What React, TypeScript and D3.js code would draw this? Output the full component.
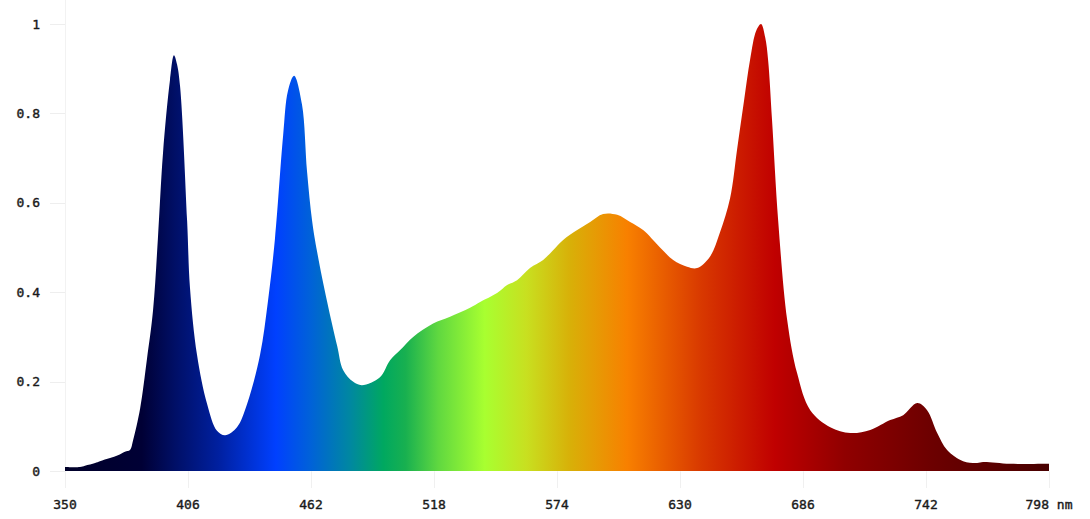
import * as React from 'react';
import * as d3 from 'd3';

// Spectrum (wavelength in nm, relative intensity)
const wavelengths = [
  350, 356.8, 359.1, 363.7, 365.9, 370.5, 374.1, 377.3, 379.6, 381.0,
  384.2, 387.3, 390.1, 392.3, 394.6, 397.8, 399.6, 401.0, 402.4, 405.6,
  406.9, 410.1, 414.7, 419.2, 422.9, 428.3, 432.9, 438.8, 442.4, 445.6,
  449.3, 451.5, 454.3, 457.9, 460.2, 462.5, 464.8, 469.3, 473.9, 476.6,
  481.1, 485.2, 493.4, 498.0, 502.5, 508.5, 517.6, 525.3, 534.4, 539.0,
  546.7, 551.3, 555.8, 561.7, 567.7, 572.2, 576.8, 583.2, 589.1, 595.0,
  601.4, 607.3, 613.2, 620.9, 626.9, 633.2, 637.8, 643.7, 648.3, 652.8,
  656.0, 659.2, 661.9, 664.7, 666.9, 668.8, 670.1, 671.9, 674.7, 678.8,
  683.3, 689.3, 698.4, 707.5, 716.6, 725.7, 731.6, 738.0, 742.5, 747.1,
  751.6, 758.9, 765.3, 768.0, 780.3, 798,
];
const intensity = [
  0.009, 0.009, 0.012, 0.018, 0.022, 0.029, 0.035, 0.043, 0.047, 0.069,
  0.14, 0.25, 0.36, 0.52, 0.71, 0.875, 0.93, 0.91, 0.86, 0.56,
  0.41, 0.26, 0.15, 0.09, 0.08, 0.098, 0.15, 0.26, 0.38, 0.52,
  0.75, 0.85, 0.884, 0.82, 0.67, 0.56, 0.49, 0.38, 0.28, 0.226,
  0.2, 0.192, 0.21, 0.248, 0.27, 0.3, 0.33, 0.345, 0.365, 0.378,
  0.398, 0.416, 0.427, 0.454, 0.472, 0.494, 0.517, 0.539, 0.557, 0.575,
  0.573, 0.557, 0.539, 0.5, 0.472, 0.457, 0.454, 0.48, 0.535, 0.61,
  0.72, 0.83, 0.92, 0.985, 1.0, 0.97, 0.92, 0.785, 0.56, 0.338,
  0.219, 0.136, 0.098, 0.085, 0.092, 0.114, 0.125, 0.152, 0.136, 0.085,
  0.047, 0.022, 0.018, 0.02, 0.016, 0.016,
];

const xTicks = [350, 406, 462, 518, 574, 630, 686, 742, 798];
const yTicks = [0, 0.2, 0.4, 0.6, 0.8, 1];

const stopNm = [350, 385, 400, 420, 446, 462, 480, 495, 505, 520, 541, 560, 580, 606, 640, 673, 705, 745, 798];
const stopColors = [
  '#00002a', '#000035', '#000f66', '#0020a0', '#0040ff', '#0062d8', '#0088a0', '#00a860', '#18b050', '#60d840',
  '#a8ff30', '#c8e020', '#d8b008', '#f88000', '#d83800', '#c00000', '#900000', '#6c0000', '#480000',
];

const W = 1090;
const H = 519;
const font = '"DejaVu Sans Mono", "Liberation Mono", monospace';

export default function App() {
  const x = d3.scaleLinear().domain([350, 798]).range([65, 1049]);
  const y = d3.scaleLinear().domain([0, 1]).range([471, 24]);

  const points = wavelengths.map((w, i) => [w, intensity[i]] as [number, number]);
  const area = d3
    .area<[number, number]>()
    .x(d => x(d[0]))
    .y0(y(0))
    .y1(d => Math.min(y(0), y(d[1])))
    .curve(d3.curveCatmullRom.alpha(0.5));

  const x0 = x(350);
  const x1 = x(798);

  return (
    <svg width={W} height={H} style={{position: 'absolute', left: 0, top: 0, background: '#fff'}}>
      <defs>
        <linearGradient id="spectrum" gradientUnits="userSpaceOnUse" x1={x0} x2={x1} y1={0} y2={0}>
          {stopNm.map((nm, i) => (
            <stop key={nm} offset={(x(nm) - x0) / (x1 - x0)} stopColor={stopColors[i]} />
          ))}
        </linearGradient>
      </defs>

      {/* faint grid */}
      <line x1={x0 + 0.5} x2={x0 + 0.5} y1={0} y2={y(0)} stroke="#f2f2f2" />
      {yTicks.map(t => (
        <line key={t} x1={50} x2={x0} y1={Math.round(y(t)) + 0.5} y2={Math.round(y(t)) + 0.5} stroke="#eeeeee" />
      ))}
      {xTicks.map(t => (
        <line key={t} x1={Math.round(x(t)) + 0.5} x2={Math.round(x(t)) + 0.5} y1={y(0)} y2={488} stroke="#f0f0f0" />
      ))}

      <path d={area(points) ?? ''} fill="url(#spectrum)" />
      <line x1={x0} x2={x1} y1={y(0) + 0.5} y2={y(0) + 0.5} stroke="#ffffff" strokeOpacity={0.35} />

      <g style={{font: `13px ${font}`}} fill="#1a1a1a" stroke="#1a1a1a" strokeWidth={0.4}>
        {yTicks.map(t => (
          <text key={t} x={40} y={y(t)} dy="0.35em" textAnchor="end">
            {d3.format('')(t)}
          </text>
        ))}
        {xTicks.map((t, i) => (
          <text key={t} x={x(t)} y={504} dy="0.35em" textAnchor="middle">
            {i === xTicks.length - 1 ? `${t} nm` : `${t}`}
          </text>
        ))}
      </g>
    </svg>
  );
}
